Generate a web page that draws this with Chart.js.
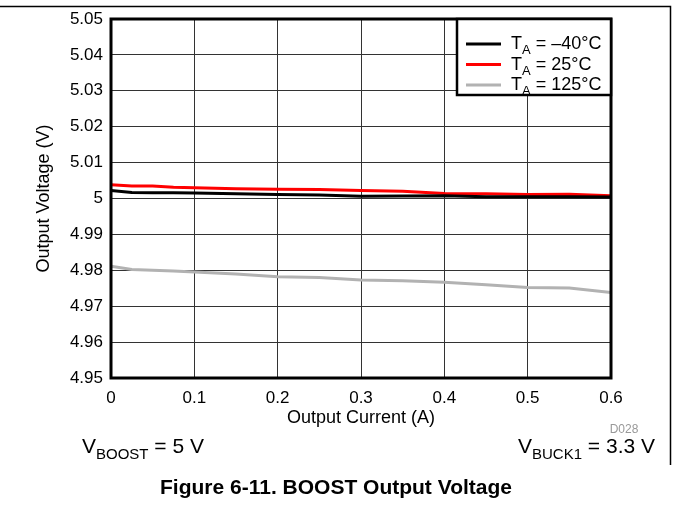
<!DOCTYPE html>
<html>
<head>
<meta charset="utf-8">
<script src="https://cdn.jsdelivr.net/npm/chart.js@4"></script>
<style>
  html, body { margin: 0; padding: 0; background: #fff; }
  #wrap { width: 673px; height: 519px; }
</style>
</head>
<body>
<div id="wrap"><canvas id="boostChart" width="673" height="519"></canvas></div>
<script>
// output current (A)
const currents = [0, 0.025, 0.05, 0.075, 0.1, 0.15, 0.2, 0.25, 0.3, 0.35, 0.4, 0.45, 0.5, 0.55, 0.6];

// output voltage (V) per temperature
const vMinus40 = [5.0022, 5.0017, 5.0016, 5.0016, 5.0015, 5.0013, 5.0011, 5.0010, 5.0006, 5.0007, 5.0008, 5.0005, 5.0005, 5.0005, 5.0004];
const v25 = [5.0038, 5.0035, 5.0035, 5.0031, 5.0030, 5.0027, 5.0026, 5.0025, 5.0022, 5.0020, 5.0014, 5.0013, 5.0011, 5.0012, 5.0008];
const v125 = [4.9811, 4.9802, 4.9800, 4.9798, 4.9795, 4.9790, 4.9782, 4.9780, 4.9773, 4.9771, 4.9767, 4.9760, 4.9752, 4.9751, 4.9738];

const tempLabels = ['\u201340\u00B0C', '25\u00B0C', '125\u00B0C'];
const lineColors = ['#000000', '#ff0000', '#b2b2b2'];

const yTicks = [4.95, 4.96, 4.97, 4.98, 4.99, 5, 5.01, 5.02, 5.03, 5.04, 5.05];
const xTicks = [0, 0.1, 0.2, 0.3, 0.4, 0.5, 0.6];

const FONT = '"Liberation Sans", Arial, sans-serif';

const toPoints = vals => vals.map((v, i) => ({ x: currents[i], y: v }));

// subscript text helper: parts = [[text, isSub], ...]
function drawParts(ctx, parts, x, y, size, align) {
  const subSize = Math.round(size * 0.72);
  const widths = parts.map(([t, sub]) => {
    ctx.font = (sub ? subSize : size) + 'px ' + FONT;
    return ctx.measureText(t).width;
  });
  const total = widths.reduce((a, b) => a + b, 0);
  let cx = align === 'right' ? x - total : x;
  ctx.textAlign = 'left';
  ctx.textBaseline = 'alphabetic';
  parts.forEach(([t, sub], i) => {
    ctx.font = (sub ? subSize : size) + 'px ' + FONT;
    ctx.fillText(t, cx, sub ? y + size * 0.3 : y);
    cx += widths[i];
  });
}

const decorations = {
  id: 'decorations',
  afterDraw(chart) {
    const { ctx, chartArea } = chart;
    ctx.save();

    // plot frame
    ctx.strokeStyle = '#000';
    ctx.lineWidth = 3;
    ctx.strokeRect(chartArea.left, chartArea.top, chartArea.right - chartArea.left, chartArea.bottom - chartArea.top);

    // legend box
    const lx = chartArea.right - 154;
    const ly = chartArea.top;
    ctx.fillStyle = '#fff';
    ctx.fillRect(lx, ly, 154, 76);
    ctx.lineWidth = 2.5;
    ctx.strokeRect(lx, ly, 154, 76);
    tempLabels.forEach((lab, i) => {
      const ry = ly + 25 + i * 20.5;
      ctx.strokeStyle = lineColors[i];
      ctx.lineWidth = 3;
      ctx.beginPath();
      ctx.moveTo(lx + 9, ry);
      ctx.lineTo(lx + 44, ry);
      ctx.stroke();
      ctx.fillStyle = '#000';
      drawParts(ctx, [['T', false], ['A', true], [' = ' + lab, false]], lx + 54, ry + 5, 18, 'left');
    });

    // outer figure border
    ctx.strokeStyle = '#000';
    ctx.lineWidth = 1.5;
    ctx.beginPath();
    ctx.moveTo(0, 6.5);
    ctx.lineTo(670.5, 6.5);
    ctx.lineTo(670.5, 465);
    ctx.stroke();

    // notes
    ctx.fillStyle = '#999';
    ctx.font = '12px ' + FONT;
    ctx.textAlign = 'center';
    ctx.textBaseline = 'middle';
    ctx.fillText('D028', 624, 430);

    ctx.fillStyle = '#000';
    drawParts(ctx, [['V', false], ['BOOST', true], [' = 5 V', false]], 82, 453, 21, 'left');
    drawParts(ctx, [['V', false], ['BUCK1', true], [' = 3.3 V', false]], 655, 453, 21, 'right');

    ctx.font = 'bold 21px ' + FONT;
    ctx.textAlign = 'center';
    ctx.textBaseline = 'middle';
    ctx.fillText('Figure 6-11. BOOST Output Voltage', 336, 488);

    ctx.restore();
  }
};

new Chart(document.getElementById('boostChart'), {
  type: 'line',
  data: {
    datasets: [vMinus40, v25, v125].map((vals, i) => ({
      label: 'T_A = ' + tempLabels[i],
      data: toPoints(vals),
      borderColor: lineColors[i],
      backgroundColor: lineColors[i],
      borderWidth: 3,
      pointRadius: 0,
      tension: 0,
      fill: false,
    })),
  },
  options: {
    responsive: false,
    animation: false,
    layout: { padding: { top: 19, right: 62, left: 0, bottom: 90 } },
    plugins: {
      legend: { display: false },
      tooltip: { enabled: false },
    },
    scales: {
      x: {
        type: 'linear',
        min: 0,
        max: 0.6,
        afterBuildTicks: s => { s.ticks = xTicks.map(v => ({ value: v })); },
        ticks: {
          padding: 10,
          color: '#000',
          font: { family: FONT, size: 17 },
          callback: v => String(v),
        },
        grid: { color: '#333', lineWidth: 1, drawTicks: false },
        border: { display: false },
        title: {
          display: true,
          text: 'Output Current (A)',
          color: '#000',
          font: { family: FONT, size: 18 },
          padding: { top: 0, bottom: 0 },
        },
        afterFit: s => { s.height = 51; },
      },
      y: {
        min: 4.95,
        max: 5.05,
        afterBuildTicks: s => { s.ticks = yTicks.map(v => ({ value: v })); },
        ticks: {
          padding: 8,
          color: '#000',
          font: { family: FONT, size: 17 },
          callback: v => String(parseFloat(v.toFixed(2))),
        },
        grid: { color: '#333', lineWidth: 1, drawTicks: false },
        border: { display: false },
        title: {
          display: true,
          text: 'Output Voltage (V)',
          color: '#000',
          font: { family: FONT, size: 18 },
          padding: { top: 33, bottom: 0 },
        },
        afterFit: s => { s.width = 111; },
      },
    },
  },
  plugins: [decorations],
});
</script>
</body>
</html>
